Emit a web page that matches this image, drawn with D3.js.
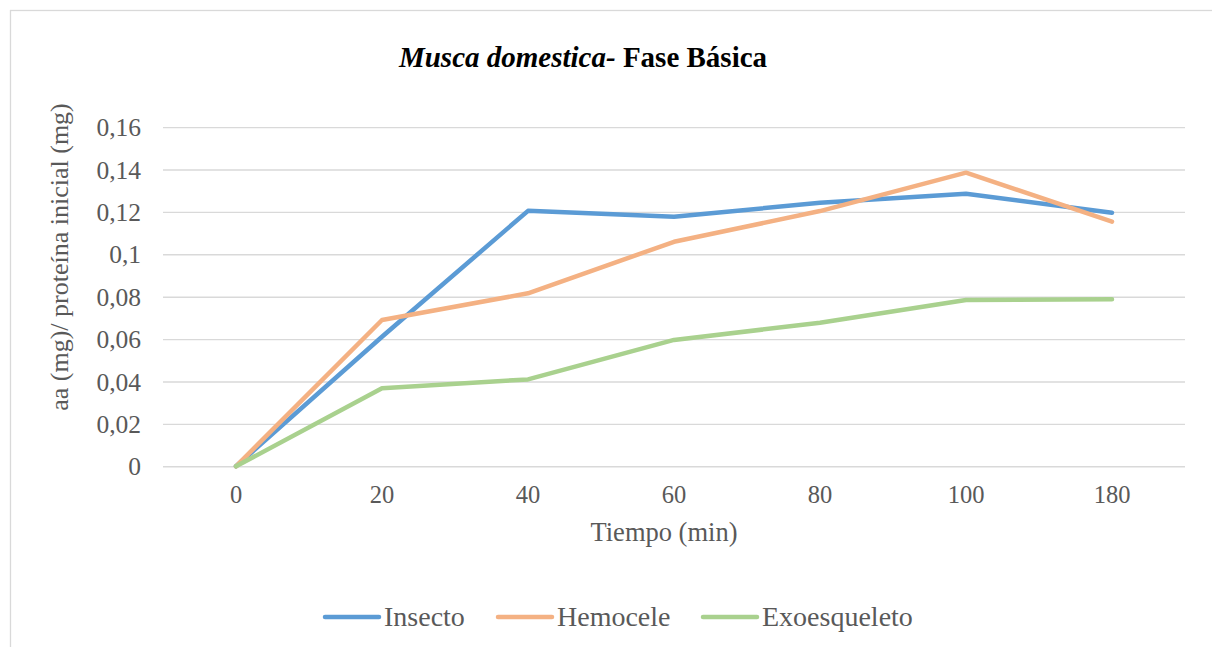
<!DOCTYPE html>
<html>
<head>
<meta charset="utf-8">
<script src="https://cdn.jsdelivr.net/npm/d3@7"></script>
<style>
  html, body { margin: 0; padding: 0; background: #fff; }
  svg { display: block; }
  svg text { font-family: "Times New Roman", "Liberation Serif", Times, serif; }
</style>
</head>
<body>
<svg id="chart" width="1212" height="647"></svg>
<script>
// Time points (minutes), shown as evenly spaced categories
const categories = ["0", "20", "40", "60", "80", "100", "180"];

// aa (mg) / initial protein (mg) per fraction
const insecto      = [0, 0.0611, 0.1205, 0.1177, 0.1243, 0.1286, 0.1196];
const hemocele     = [0, 0.0690, 0.0816, 0.1059, 0.1204, 0.1385, 0.1154];
const exoesqueleto = [0, 0.0368, 0.0410, 0.0596, 0.0677, 0.0784, 0.0788];

const seriesNames  = ["Insecto", "Hemocele", "Exoesqueleto"];
const seriesColors = ["#5B9BD5", "#F4B183", "#A9D18E"];
const yTicks = [0, 0.02, 0.04, 0.06, 0.08, 0.1, 0.12, 0.14, 0.16];

const series = [insecto, hemocele, exoesqueleto].map((vals, i) => ({
  name: seriesNames[i],
  color: seriesColors[i],
  points: vals.map((v, j) => ({ cat: categories[j], v }))
}));

const FONT = '"Times New Roman", "Liberation Serif", Times, serif';
const svg = d3.select("#chart");

// outer chart frame
svg.append("rect")
  .attr("x", 10.5).attr("y", 10.5)
  .attr("width", 1220).attr("height", 700)
  .attr("fill", "#fff")
  .attr("stroke", "#D9D9D9")
  .attr("stroke-width", 1.3);

const plot = { left: 163, right: 1185, top: 127.1, bottom: 466.3 };

const x = d3.scaleBand()
  .domain(categories)
  .range([plot.left, plot.right])
  .paddingInner(0).paddingOuter(0);

const y = d3.scaleLinear()
  .domain([0, 0.16])
  .range([plot.bottom, plot.top]);

const fmt = v => String(+v.toFixed(2)).replace(".", ",");

// horizontal gridlines + y tick labels
const yAxis = d3.axisLeft(y)
  .tickValues(yTicks)
  .tickFormat(fmt)
  .tickSize(-(plot.right - plot.left))
  .tickPadding(22);

const gy = svg.append("g")
  .attr("transform", `translate(${plot.left},0)`)
  .call(yAxis);
gy.attr("font-family", FONT);
gy.select(".domain").remove();
gy.selectAll(".tick line")
  .attr("stroke", "#D9D9D9")
  .attr("stroke-width", 1.4);
gy.selectAll(".tick text")
  .attr("fill", "#595959")
  .attr("font-size", 25.5)
  .attr("dy", "0.34em");

// x category labels
const xAxis = d3.axisBottom(x).tickSize(0).tickPadding(19);
const gx = svg.append("g")
  .attr("transform", `translate(0,${plot.bottom})`)
  .call(xAxis);
gx.attr("font-family", FONT);
gx.select(".domain").remove();
gx.selectAll(".tick text")
  .attr("fill", "#595959")
  .attr("font-size", 24.5);

// series lines
const line = d3.line()
  .x(d => x(d.cat) + x.bandwidth() / 2)
  .y(d => y(d.v));

svg.append("g").selectAll("path")
  .data(series)
  .join("path")
  .attr("d", d => line(d.points))
  .attr("fill", "none")
  .attr("stroke", d => d.color)
  .attr("stroke-width", 4.5)
  .attr("stroke-linejoin", "round")
  .attr("stroke-linecap", "round");

// title
const title = svg.append("text")
  .attr("x", 583).attr("y", 67)
  .attr("text-anchor", "middle")
  .attr("font-size", 29)
  .attr("font-weight", "bold")
  .attr("fill", "#000");
title.append("tspan").attr("font-style", "italic").text("Musca domestica-");
title.append("tspan").text(" Fase Básica");

// axis titles
svg.append("text")
  .attr("x", 664).attr("y", 541)
  .attr("text-anchor", "middle")
  .attr("font-size", 26.5)
  .attr("fill", "#595959")
  .text("Tiempo (min)");

svg.append("text")
  .attr("transform", "translate(68,257) rotate(-90)")
  .attr("text-anchor", "middle")
  .attr("font-size", 26)
  .attr("fill", "#595959")
  .text("aa (mg)/ proteína inicial (mg)");

// legend
const legendX = [325, 498, 703];
const lg = svg.append("g").selectAll("g")
  .data(series)
  .join("g")
  .attr("transform", (d, i) => `translate(${legendX[i]},617)`);
lg.append("line")
  .attr("x1", 0).attr("x2", 54)
  .attr("y1", 0).attr("y2", 0)
  .attr("stroke", d => d.color)
  .attr("stroke-width", 4.5)
  .attr("stroke-linecap", "round");
lg.append("text")
  .attr("x", 59).attr("y", 9)
  .attr("font-size", 28)
  .attr("fill", "#595959")
  .text(d => d.name);
</script>
</body>
</html>
